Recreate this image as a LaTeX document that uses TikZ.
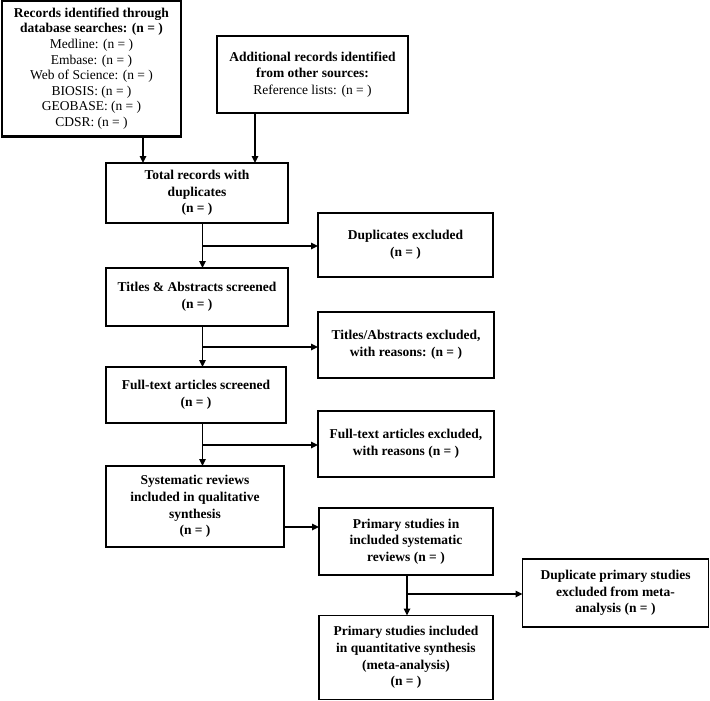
\documentclass[tikz,border=0pt]{standalone}
\usepackage{fontspec}
\setmainfont{Liberation Serif}
\usetikzlibrary{arrows.meta}
\tikzset{
  box/.style={draw, line width=1.8pt, inner sep=0pt, outer sep=0pt, align=center,
    font=\fontsize{13.5}{16.7}\selectfont\bfseries},
  bigbox/.style={box, line width=2.8pt, font=\fontsize{13.5}{15.6}\selectfont},
  arr/.style={line width=1.6pt, -{Triangle[length=7pt,width=6.5pt]}},
  ln/.style={line width=1.6pt}
}
\begin{document}
\begin{tikzpicture}[x=1pt,y=1pt]
\useasboundingbox (0,0) rectangle (710,-701);
\node[bigbox, minimum width=179pt, minimum height=136pt] (b1) at (91.5,-68.5)
  {\textbf{Records identified through}\\\textbf{database searches: (n = )}\\Medline: (n = )\\Embase: (n = )\\Web of Science: (n = )\\BIOSIS: (n = )\\GEOBASE: (n = )\\CDSR: (n = )};
\node[box, minimum width=191pt, minimum height=77pt] (b2) at (312.5,-74.5)
  {Additional records identified\\from other sources:\\\mdseries Reference lists: (n = )};
\node[box, minimum width=182pt, minimum height=60pt] (b3) at (197,-193)
  {Total records with\\duplicates\\(n = )};
\node[box, minimum width=175pt, minimum height=64pt] (b4) at (405.5,-245)
  {Duplicates excluded\\(n = )};
\node[box, minimum width=182pt, minimum height=58pt] (b5) at (197,-297)
  {Titles \& Abstracts screened\\(n = )};
\node[box, minimum width=176pt, minimum height=66pt] (b6) at (406,-345)
  {Titles/Abstracts excluded,\\with reasons: (n = )};
\node[box, minimum width=180pt, minimum height=56pt] (b7) at (196,-395)
  {Full-text articles screened\\(n = )};
\node[box, minimum width=176pt, minimum height=66pt] (b8) at (406,-444)
  {Full-text articles excluded,\\with reasons (n = )};
\node[box, minimum width=178pt, minimum height=81pt] (b9) at (195,-506.5)
  {Systematic reviews\\included in qualitative\\synthesis\\(n = )};
\node[box, minimum width=174pt, minimum height=67pt] (b10) at (406,-541.5)
  {Primary studies in\\included systematic\\reviews (n = )};
\node[box, minimum width=186pt, minimum height=68pt] (b11) at (615.5,-593)
  {Duplicate primary studies\\excluded from meta-\\analysis (n = )};
\node[box, minimum width=174pt, minimum height=84pt] (b12) at (406,-657.5)
  {Primary studies included\\in quantitative synthesis\\(meta-analysis)\\(n = )};
% helper coordinates
\coordinate (xa) at (143,0);
\coordinate (xb) at (255,0);
\coordinate (xc) at (202.5,0);
\coordinate (xd) at (407,0);
\coordinate (j1) at (202.5,-246);
\coordinate (j2) at (202.5,-347);
\coordinate (j3) at (202.5,-445);
\coordinate (j4) at (407,-594);
\coordinate (ya) at (0,-527);
% connectors
\draw[arr] (xa |- b1.south) -- (xa |- b3.north);
\draw[arr] (xb |- b2.south) -- (xb |- b3.north);
\draw[arr] (xc |- b3.south) -- (xc |- b5.north);
\draw[arr] (j1) -- (j1 -| b4.west);
\draw[arr] (xc |- b5.south) -- (xc |- b7.north);
\draw[arr] (j2) -- (j2 -| b6.west);
\draw[arr] (xc |- b7.south) -- (xc |- b9.north);
\draw[arr] (j3) -- (j3 -| b8.west);
\draw[arr] (ya -| b9.east) -- (ya -| b10.west);
\draw[arr] (xd |- b10.south) -- (xd |- b12.north);
\draw[arr] (j4) -- (j4 -| b11.west);
\end{tikzpicture}
\end{document}
